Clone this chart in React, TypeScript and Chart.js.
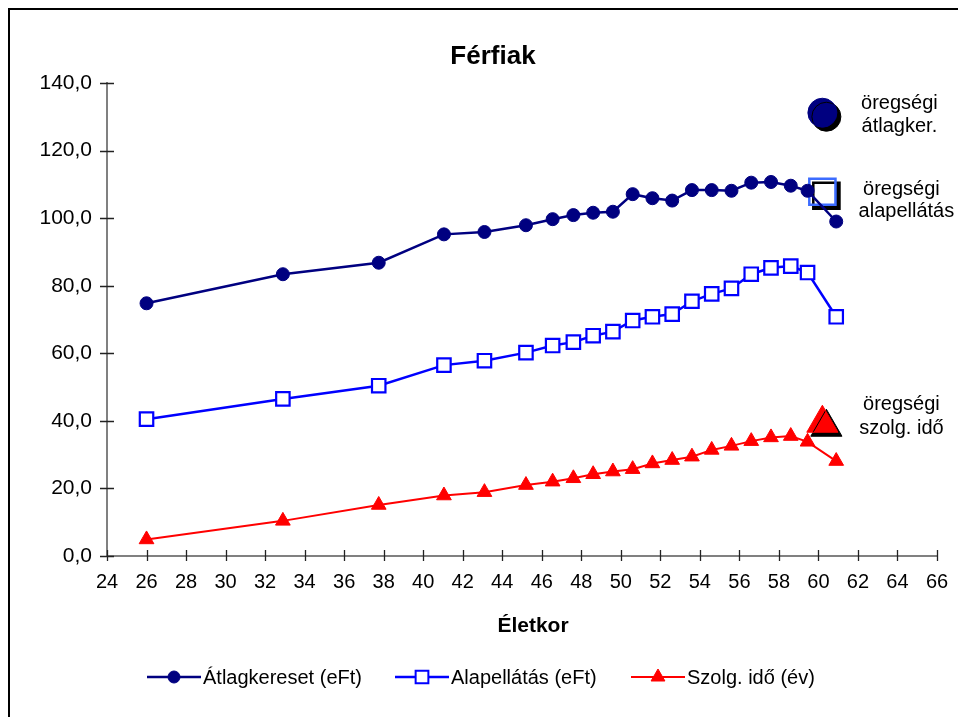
import React, { useEffect, useRef } from 'react';
import { Chart, registerables } from 'chart.js';

Chart.register(...registerables);

// ---- data ----
const ages = [26.0, 32.9, 37.75, 41.05, 43.1, 45.2, 46.55, 47.6, 48.6, 49.6, 50.6, 51.6, 52.6, 53.6, 54.6, 55.6, 56.6, 57.6, 58.6, 59.45, 60.9];
const atlagkereset = [74.8, 83.4, 86.8, 95.2, 95.9, 97.9, 99.7, 100.9, 101.6, 101.9, 107.1, 105.9, 105.2, 108.3, 108.3, 108.1, 110.5, 110.7, 109.6, 108.1, 99.0];
const alapellatas = [40.5, 46.5, 50.4, 56.5, 57.8, 60.2, 62.3, 63.3, 65.2, 66.4, 69.7, 70.8, 71.6, 75.4, 77.6, 79.2, 83.4, 85.3, 85.8, 83.9, 70.8];
const szolgIdo = [4.9, 10.4, 15.1, 17.9, 18.9, 21.0, 22.0, 23.0, 24.2, 25.0, 25.7, 27.4, 28.4, 29.4, 31.4, 32.6, 34.0, 35.1, 35.5, 33.8, 28.1];

const oregAge = 60.2;
const oregAtlag = 131.2;
const oregAlap = 107.8;
const oregSzolg = 39.3;

const seriesNames = ['Átlagkereset (eFt)', 'Alapellátás (eFt)', 'Szolg. idő (év)'];
const oregLabels = [
  ['öregségi', 'átlagker.'],
  ['öregségi', 'alapellátás'],
  ['öregségi', 'szolg. idő'],
];
const chartTitle = 'Férfiak';
const xTitle = 'Életkor';
const xMin = 24, xMax = 66, xStep = 2;
const yMin = 0, yMax = 140, yStep = 20;

const FONT = '"Liberation Sans", Arial, Helvetica, sans-serif';
const NAVY = '#000080';
const BLUE = '#0000FF';
const RED = '#FF0000';

function drawMarker(ctx: CanvasRenderingContext2D, style: string, x: number, y: number, r: number, fill: string, stroke: string, bw: number) {
  ctx.save();
  ctx.beginPath();
  if (style === 'circle') {
    ctx.arc(x, y, r, 0, Math.PI * 2);
  } else if (style === 'rect') {
    const s = Math.SQRT1_2 * r;
    ctx.rect(x - s, y - s, 2 * s, 2 * s);
  } else {
    ctx.moveTo(x, y - r);
    ctx.lineTo(x + r * Math.sin(Math.PI * 2 / 3), y + r * 0.5);
    ctx.lineTo(x - r * Math.sin(Math.PI * 2 / 3), y + r * 0.5);
    ctx.closePath();
  }
  ctx.fillStyle = fill;
  ctx.fill();
  ctx.lineWidth = bw;
  ctx.strokeStyle = stroke;
  ctx.stroke();
  ctx.restore();
}

const shadowPlugin = {
  id: 'shadowPlugin',
  beforeDatasetDraw(chart: any, args: any) {
    const ds = chart.data.datasets[args.index];
    if (ds.shadow) {
      const ctx = chart.ctx;
      ctx.save();
      ctx.shadowColor = '#000000';
      ctx.shadowOffsetX = 4;
      ctx.shadowOffsetY = 4;
      ctx.shadowBlur = 0;
    }
  },
  afterDatasetDraw(chart: any, args: any) {
    const ds = chart.data.datasets[args.index];
    if (ds.shadow) chart.ctx.restore();
  },
};

const decorPlugin = {
  id: 'decorPlugin',
  afterDraw(chart: any) {
    const ctx: CanvasRenderingContext2D = chart.ctx;
    const xs = chart.scales.x;
    const ys = chart.scales.y;
    const area = chart.chartArea;
    ctx.save();

    // outer frame (top & left visible)
    ctx.strokeStyle = '#000';
    ctx.lineWidth = 2;
    ctx.beginPath();
    ctx.moveTo(9, 960);
    ctx.lineTo(9, 9);
    ctx.lineTo(960, 9);
    ctx.stroke();

    // crossing tick marks
    ctx.strokeStyle = '#222';
    ctx.lineWidth = 1.3;
    ctx.beginPath();
    for (let v = yMin; v <= yMax; v += yStep) {
      const py = Math.round(ys.getPixelForValue(v)) + 0.5;
      ctx.moveTo(area.left - 7, py);
      ctx.lineTo(area.left + 7, py);
    }
    for (let v = xMin; v <= xMax; v += xStep) {
      const px = Math.round(xs.getPixelForValue(v)) + 0.5;
      ctx.moveTo(px, area.bottom - 6);
      ctx.lineTo(px, area.bottom + 5);
    }
    ctx.stroke();

    // title
    ctx.fillStyle = '#000';
    ctx.textAlign = 'center';
    ctx.textBaseline = 'alphabetic';
    ctx.font = `bold 26px ${FONT}`;
    ctx.fillText(chartTitle, 493, 64);

    // x axis title
    ctx.font = `bold 21px ${FONT}`;
    ctx.fillText(xTitle, 533, 632);

    // legend
    const legendItems = [
      { x: 147, color: NAVY, style: 'circle', r: 6, fill: NAVY, bw: 1, lw: 2.5 },
      { x: 395, color: BLUE, style: 'rect', r: 9, fill: '#fff', bw: 2, lw: 2.5 },
      { x: 631, color: RED, style: 'triangle', r: 8, fill: RED, bw: 1, lw: 2 },
    ];
    const ly = 677;
    ctx.font = `20px ${FONT}`;
    ctx.textAlign = 'left';
    ctx.textBaseline = 'middle';
    legendItems.forEach((it, i) => {
      ctx.strokeStyle = it.color;
      ctx.lineWidth = it.lw;
      ctx.beginPath();
      ctx.moveTo(it.x, ly);
      ctx.lineTo(it.x + 54, ly);
      ctx.stroke();
      drawMarker(ctx, it.style, it.x + 27, ly, it.r, it.fill, it.color, it.bw);
      ctx.fillStyle = '#000';
      ctx.fillText(seriesNames[i], it.x + 56, ly + 1);
    });

    // annotations next to the "öregségi" points
    ctx.font = `20px ${FONT}`;
    ctx.textAlign = 'center';
    ctx.textBaseline = 'alphabetic';
    const ox = xs.getPixelForValue(oregAge);
    const anns = [
      { y: ys.getPixelForValue(oregAtlag), dx: [77, 77], dy: [-4, 19.5] },
      { y: ys.getPixelForValue(oregAlap), dx: [79, 84], dy: [3, 25] },
      { y: ys.getPixelForValue(oregSzolg), dx: [79, 79], dy: [-13, 10.5] },
    ];
    anns.forEach((a, i) => {
      ctx.fillText(oregLabels[i][0], ox + a.dx[0], a.y + a.dy[0]);
      ctx.fillText(oregLabels[i][1], ox + a.dx[1], a.y + a.dy[1]);
    });

    ctx.restore();
  },
};

export default function App() {
  const ref = useRef<HTMLCanvasElement | null>(null);

  useEffect(() => {
    if (!ref.current) return;
    const pts = (arr: number[]) => ages.map((a, i) => ({ x: a, y: arr[i] }));
    const chart = new Chart(ref.current, {
      type: 'line',
      data: {
        datasets: [
          {
            label: seriesNames[0],
            data: pts(atlagkereset),
            borderColor: NAVY,
            backgroundColor: NAVY,
            borderWidth: 2.5,
            pointStyle: 'circle',
            pointRadius: 6.5,
            pointBackgroundColor: NAVY,
            pointBorderColor: NAVY,
            pointBorderWidth: 1,
            tension: 0,
          },
          {
            label: seriesNames[1],
            data: pts(alapellatas),
            borderColor: BLUE,
            backgroundColor: '#fff',
            borderWidth: 2.5,
            pointStyle: 'rect',
            pointRadius: 9.5,
            pointBackgroundColor: '#fff',
            pointBorderColor: BLUE,
            pointBorderWidth: 2.2,
            tension: 0,
          },
          {
            label: seriesNames[2],
            data: pts(szolgIdo),
            borderColor: RED,
            backgroundColor: RED,
            borderWidth: 2,
            pointStyle: 'triangle',
            pointRadius: 8.5,
            pointBackgroundColor: RED,
            pointBorderColor: RED,
            pointBorderWidth: 1,
            tension: 0,
          },
          {
            label: 'öregségi átlagker.',
            data: [{ x: oregAge, y: oregAtlag }],
            showLine: false,
            pointStyle: 'circle',
            pointRadius: 14.5,
            pointBackgroundColor: NAVY,
            pointBorderColor: NAVY,
            pointBorderWidth: 1,
            shadow: true,
          } as any,
          {
            label: 'öregségi alapellátás',
            data: [{ x: oregAge, y: oregAlap }],
            showLine: false,
            pointStyle: 'rect',
            pointRadius: 18.5,
            pointBackgroundColor: '#fff',
            pointBorderColor: '#3C6CFF',
            pointBorderWidth: 2.5,
            shadow: true,
          } as any,
          {
            label: 'öregségi szolg. idő',
            data: [{ x: oregAge, y: oregSzolg }],
            showLine: false,
            pointStyle: 'triangle',
            pointRadius: 18,
            pointBackgroundColor: RED,
            pointBorderColor: RED,
            pointBorderWidth: 1,
            shadow: true,
          } as any,
        ],
      },
      options: {
        responsive: false,
        animation: false,
        devicePixelRatio: 1,
        layout: { padding: { left: 0, right: 19, top: 83, bottom: 0 } },
        plugins: {
          legend: { display: false },
          title: { display: false },
          tooltip: { enabled: false },
        },
        scales: {
          x: {
            type: 'linear',
            min: xMin,
            max: xMax,
            ticks: {
              stepSize: xStep,
              padding: 14,
              color: '#000',
              font: { family: FONT, size: 20 },
              maxRotation: 0,
              autoSkip: false,
            },
            grid: { display: false, drawTicks: false },
            border: { display: true, color: '#808080', width: 2 },
            afterFit: (s: any) => { s.height = 161; s.paddingLeft = 0; s.paddingRight = 0; },
          },
          y: {
            type: 'linear',
            min: yMin,
            max: yMax,
            ticks: {
              stepSize: yStep,
              padding: 15,
              color: '#000',
              font: { family: FONT, size: 21 },
              callback: (v: any) => Number(v).toFixed(1).replace('.', ','),
            },
            grid: { display: false, drawTicks: false },
            border: { display: true, color: '#808080', width: 2 },
            afterFit: (s: any) => { s.width = 107; s.paddingTop = 0; s.paddingBottom = 0; },
          },
        },
      } as any,
      plugins: [shadowPlugin, decorPlugin],
    });
    return () => chart.destroy();
  }, []);

  return (
    <div style={{ position: 'fixed', left: 0, top: 0, width: 958, height: 717, background: '#fff' }}>
      <canvas ref={ref} width={958} height={717} style={{ display: 'block' }} />
    </div>
  );
}
